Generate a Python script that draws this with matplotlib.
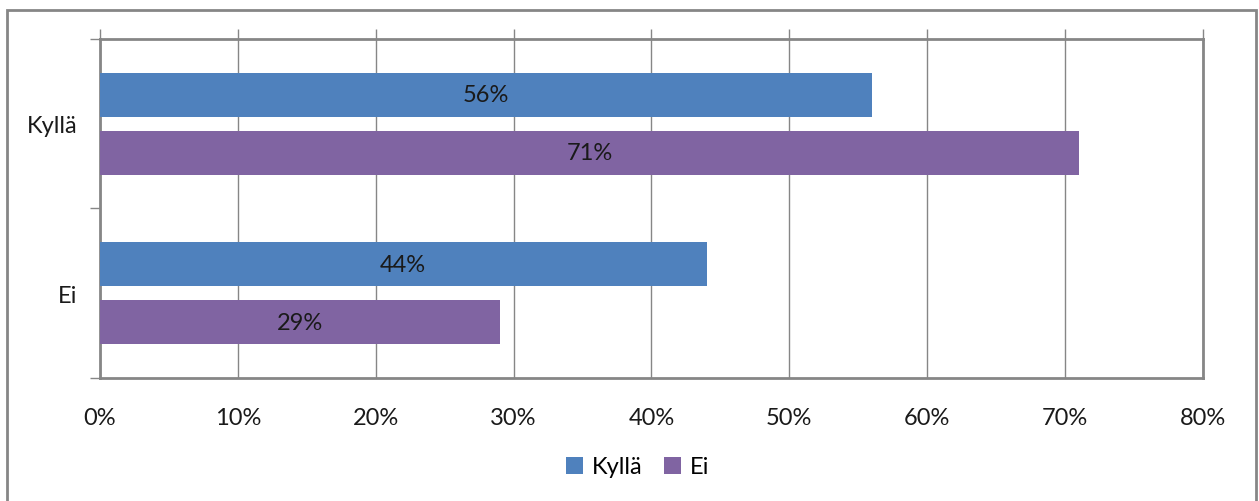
import matplotlib.pyplot as plt
from matplotlib.patches import Rectangle
import numpy as np

plt.rcParams['font.family'] = ['Lato', 'DejaVu Sans']

categories = ['Ei', 'Kyllä']        # bottom to top
series_names = ['Kyllä', 'Ei']
kylla_values = [44, 56]
ei_values = [29, 71]
x_ticks = [0, 10, 20, 30, 40, 50, 60, 70, 80]

BLUE = '#4F81BD'
PURPLE = '#8064A2'
GREY = '#868686'
TEXT = '#1a1a1a'
FS = 17

fig = plt.figure(figsize=(12.59, 5.02), dpi=100)
ax = fig.add_axes([0.0794, 0.245, 0.8761, 0.6755])

# outer chart frame
fig.patches.append(Rectangle((7 / 1259, -0.05), 1249 / 1259, 1.05 - 11 / 502,
                             transform=fig.transFigure, fill=False,
                             edgecolor=GREY, linewidth=2))

y = np.arange(len(categories))
h = 0.26
off = 0.171
bars1 = ax.barh(y + off, kylla_values, height=h, color=BLUE, label=series_names[0], zorder=3)
bars2 = ax.barh(y - off, ei_values, height=h, color=PURPLE, label=series_names[1], zorder=3)

for bars in (bars1, bars2):
    for b in bars:
        w = b.get_width()
        ax.text(w / 2, b.get_y() + b.get_height() / 2, f'{w:g}%',
                ha='center', va='center', fontsize=FS, color=TEXT, zorder=4)

ax.set_xlim(0, 80)
ax.set_ylim(-0.5, 1.5)
ax.set_xticks(x_ticks)
ax.set_xticklabels([f'{t}%' for t in x_ticks])
ax.xaxis.set_ticks_position('top')
ax.tick_params(axis='x', which='both', top=True, bottom=False, labeltop=False,
               labelbottom=True, length=7, width=1, color=GREY,
               labelsize=FS, pad=14, labelcolor=TEXT)
ax.set_yticks(y)
ax.set_yticklabels(categories)
ax.set_yticks([-0.5, 0.5, 1.5], minor=True)
ax.tick_params(axis='y', which='major', length=0, labelsize=FS, pad=16, labelcolor=TEXT)
ax.tick_params(axis='y', which='minor', length=7, width=1, color=GREY)
ax.grid(axis='x', color=GREY, linewidth=1, zorder=0)

for s in ax.spines.values():
    s.set_color(GREY)
    s.set_linewidth(2)

ax.legend(loc='center', bbox_to_anchor=(638 / 1259, 1 - 468 / 502),
          bbox_transform=fig.transFigure, ncol=2, frameon=False,
          fontsize=FS, handlelength=0.7, handleheight=0.7, handletextpad=0.4,
          columnspacing=0.9)

fig.savefig('out.png', dpi=100)
